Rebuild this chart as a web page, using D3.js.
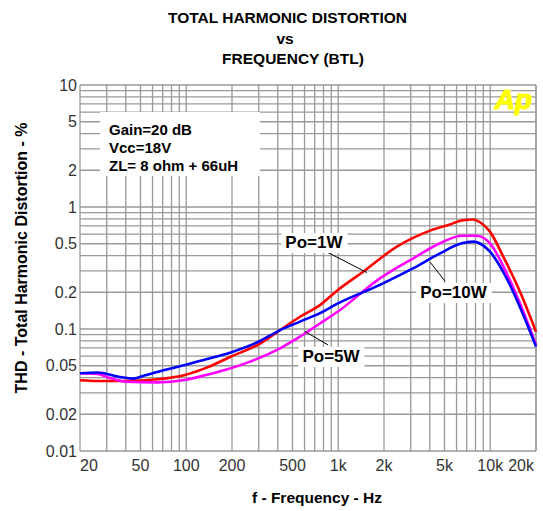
<!DOCTYPE html>
<html><head><meta charset="utf-8">
<script src="https://cdn.jsdelivr.net/npm/d3@7"></script>
<style>body{margin:0;background:#fff}svg{display:block}text{font-family:"Liberation Sans",Arial,sans-serif}</style>
</head><body><svg id="c" width="543" height="511"></svg>
<script>
// ---- data ----
const freqP1 = [20, 26, 40, 65, 98, 135, 194, 306, 414, 560, 758, 995, 1460, 2430, 4020, 5440, 6490, 7740, 8570, 9960, 12180, 15700, 20000];
const thdP1  = [0.038, 0.0375, 0.0375, 0.0387, 0.042, 0.048, 0.059, 0.076, 0.098, 0.126, 0.157, 0.209, 0.295, 0.473, 0.64, 0.72, 0.775, 0.79, 0.75, 0.628, 0.392, 0.202, 0.095];
const freqP5 = [20, 26, 32, 40, 65, 98, 135, 180, 263, 414, 560, 758, 995, 1880, 3120, 4670, 6490, 8150, 9960, 12830, 16500, 20000];
const thdP5  = [0.0434, 0.0428, 0.0394, 0.037, 0.0365, 0.0382, 0.042, 0.0461, 0.054, 0.0695, 0.0865, 0.111, 0.139, 0.26, 0.38, 0.504, 0.582, 0.582, 0.504, 0.286, 0.139, 0.074];
const freqP10 = [20, 26, 36, 45, 53, 72, 98, 135, 194, 306, 414, 560, 758, 995, 1880, 3120, 4670, 6490, 7740, 9960, 12830, 16500, 20000];
const thdP10  = [0.0434, 0.044, 0.0405, 0.0392, 0.0415, 0.0461, 0.0507, 0.0565, 0.064, 0.0798, 0.098, 0.115, 0.135, 0.162, 0.23, 0.315, 0.417, 0.504, 0.52, 0.43, 0.26, 0.13, 0.0717];
const xTickValues = [20, 50, 100, 200, 500, 1000, 2000, 5000, 10000, 20000];
const xTickLabels = ["20", "50", "100", "200", "500", "1k", "2k", "5k", "10k", "20k"];
const yTickValues = [10, 5, 2, 1, 0.5, 0.2, 0.1, 0.05, 0.02, 0.01];
const yTickLabels = ["10", "5", "2", "1", "0.5", "0.2", "0.1", "0.05", "0.02", "0.01"];
const titleLines = ["TOTAL HARMONIC DISTORTION", "vs", "FREQUENCY (BTL)"];
const conditionLines = ["Gain=20 dB", "Vcc=18V", "ZL= 8 ohm + 66uH"];
const seriesNames = ["Po=1W", "Po=5W", "Po=10W"];
const seriesColors = ["#ff0000", "#ff00ff", "#0000ff"];
// annotation anchors in data units: text [f, thd], leader from/to [f, thd]
const annText = [[692, 0.461], [896, 0.0537], [5730, 0.1795]];
const annFrom = [[794, 0.444], [604, 0.0955], [4016, 0.354]];
const annTo   = [[1546, 0.29], [857, 0.074], [5036, 0.247]];

const series = [
  {name: seriesNames[0], color: seriesColors[0], pts: freqP1.map((f,i)=>[f, thdP1[i]])},
  {name: seriesNames[1], color: seriesColors[1], pts: freqP5.map((f,i)=>[f, thdP5[i]])},
  {name: seriesNames[2], color: seriesColors[2], pts: freqP10.map((f,i)=>[f, thdP10[i]])}
];

const svg = d3.select("#c");
const L = 80, R = 536, T = 85, B = 451;
const x = d3.scaleLog().domain([20, 20000]).range([L, R]);
const y = d3.scaleLog().domain([0.01, 10]).range([B, T]);

// grid
const xGrid = [];
[10,100,1000,10000].forEach(d=>{for(let k=1;k<=9;k++){const v=k*d; if(v>=20&&v<=20000) xGrid.push(v);}});
xGrid.push(20000);
const yGrid = [];
[0.01,0.1,1].forEach(d=>{for(let k=1;k<=9;k++) yGrid.push(k*d);});
yGrid.push(10);
const g = svg.append("g");
g.selectAll("line.gx").data(xGrid).join("line")
  .attr("x1", d=>x(d)).attr("x2", d=>x(d)).attr("y1", T).attr("y2", B)
  .attr("stroke", "#999").attr("stroke-width", 1.3);
g.selectAll("line.gy").data(yGrid).join("line")
  .attr("y1", d=>y(d)).attr("y2", d=>y(d)).attr("x1", L).attr("x2", R)
  .attr("stroke", "#999").attr("stroke-width", 1.3);

// tick labels
svg.append("g").selectAll("text").data(xTickValues).join("text")
  .attr("x", d=>x(d)).attr("y", B+20)
  .attr("text-anchor", (d,i)=> i===0 ? "start" : (i===xTickValues.length-1 ? "end" : "middle"))
  .attr("dx", (d,i)=> i===0 ? 0 : (i===xTickValues.length-1 ? -2 : 0))
  .attr("font-size", 16).attr("fill", "#333")
  .text((d,i)=>xTickLabels[i]);
svg.append("g").selectAll("text").data(yTickValues).join("text")
  .attr("x", L-3).attr("y", d=>y(d)).attr("dy", "0.36em")
  .attr("text-anchor", "end").attr("font-size", 16).attr("fill", "#333")
  .text((d,i)=>yTickLabels[i]);

// conditions box
svg.append("rect").attr("x", L+20).attr("y", T+27).attr("width", 160).attr("height", 64).attr("fill", "#fff");
svg.append("g").selectAll("text").data(conditionLines).join("text")
  .attr("x", L+29).attr("y", (d,i)=>T+50+i*18)
  .attr("font-size", 15).attr("font-weight", "bold").attr("fill", "#000")
  .text(d=>d);

// Ap logo
svg.append("text").attr("x", R-4).attr("y", T+24).attr("text-anchor", "end")
  .attr("font-size", 28).attr("font-weight", "bold").attr("font-style", "italic")
  .attr("fill", "#ffff00").attr("stroke", "#ffff00").attr("stroke-width", 1.2).text("Ap");

// curves
const line = d3.line().x(d=>x(d[0])).y(d=>y(d[1])).curve(d3.curveMonotoneX);
svg.append("g").selectAll("path").data(series).join("path")
  .attr("d", d=>line(d.pts)).attr("fill", "none")
  .attr("stroke", d=>d.color).attr("stroke-width", 2.6).attr("stroke-linejoin", "round");

// annotations
const ann = svg.append("g");
seriesNames.forEach((name, i)=>{
  ann.append("line")
    .attr("x1", x(annFrom[i][0])).attr("y1", y(annFrom[i][1]))
    .attr("x2", x(annTo[i][0])).attr("y2", y(annTo[i][1]))
    .attr("stroke", "#000").attr("stroke-width", 1);
  const t = ann.append("text")
    .attr("x", x(annText[i][0])).attr("y", y(annText[i][1]))
    .attr("text-anchor", "middle").attr("font-size", 17).attr("font-weight", "bold")
    .attr("fill", "#000").text(name);
  const bb = t.node().getBBox();
  ann.insert("rect", "text:last-child")
    .attr("x", bb.x-4).attr("y", bb.y).attr("width", bb.width+8).attr("height", bb.height+1)
    .attr("fill", "#fff");
  t.raise();
});

// titles
const titleX = [287.5, 285, 293];
svg.append("g").selectAll("text").data(titleLines).join("text")
  .attr("x", (d,i)=>titleX[i]).attr("y", (d,i)=>23+i*20.5)
  .attr("text-anchor", "middle").attr("font-size", 15.5).attr("font-weight", "bold")
  .text(d=>d);
svg.append("text").attr("x", 317).attr("y", 503).attr("text-anchor", "middle")
  .attr("font-size", 15.5).attr("font-weight", "bold").text("f - Frequency - Hz");
svg.append("text").attr("transform", "translate(27,258) rotate(-90)")
  .attr("text-anchor", "middle").attr("font-size", 16).attr("font-weight", "bold")
  .text("THD - Total Harmonic Distortion - %");
</script></body></html>
